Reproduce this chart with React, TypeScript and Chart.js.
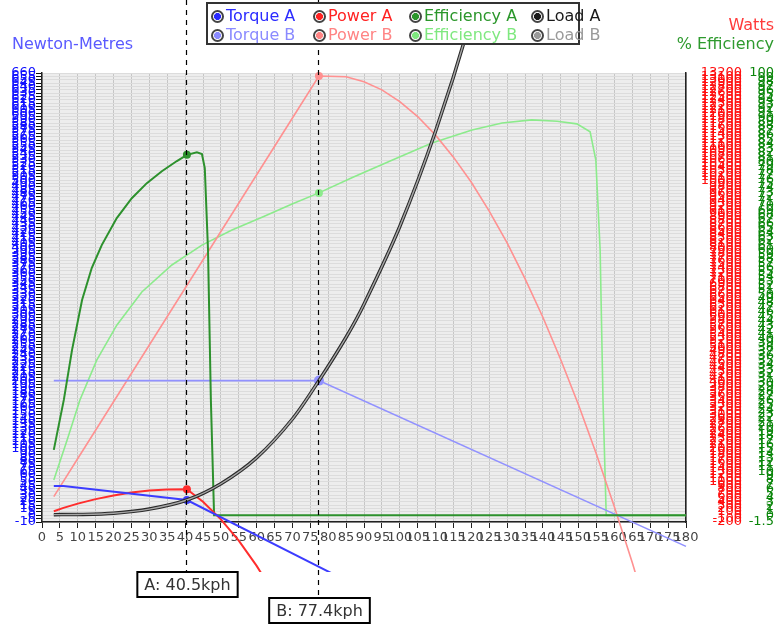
import React, { useEffect, useRef } from 'react';
import { Chart, registerables } from 'chart.js';

Chart.register(...registerables);

const FONT = '"DejaVu Sans", Verdana, sans-serif';

// ---- axes ----
const speedMin = 0;
const speedMax = 180;
const speedStep = 5;
const torqueMin = -10;
const torqueMax = 660;
const torqueStep = 5;
const wattsMin = -200;
const wattsMax = 13200;
const wattsStep = 100;
const effMin = -1.5;
const effMax = 100;
const effStep = 1;

// ---- operating points ----
const speedA = 40.5;
const speedB = 77.4;

// ---- series (speed in kph) ----
const torqueASpeeds = [3.3, 6, 40.5, 85];
const torqueAValues = [43.7, 43.7, 22.8, -97.4];

const torqueBSpeeds = [3.3, 77.4, 180];
const torqueBValues = [201, 201, -46.4];

const powerASpeeds = [3.3, 6, 10, 15, 20, 25, 30, 35, 40.5, 45, 50, 55, 60, 65];
const powerAValues = [122, 221, 348, 483, 593, 678, 738, 770, 778, 404, -120, -758, -1509, -2375];

const powerBSpeeds = [3.3, 10, 20, 30, 40, 50, 60, 70, 77.4, 85, 90, 95, 100, 105, 110, 115, 120, 125, 130, 135, 140, 145, 150, 155, 160, 165, 170];
const powerBValues = [559, 1694, 3388, 5081, 6775, 8469, 10163, 11857, 13110, 13087, 12939, 12697, 12346, 11901, 11346, 10689, 9940, 9080, 8129, 7065, 5911, 4643, 3287, 1816, 248, -1418, -3195];

const effASpeeds = [3.3, 6.1, 8.4, 11.2, 13.9, 16.7, 20.9, 25.1, 29.3, 33.5, 37.7, 40.5, 43.3, 44.7, 45.5, 46.4, 47.2, 48.1, 180];
const effAValues = [14.8, 26.1, 37.4, 48.7, 55.9, 61.1, 67.2, 71.7, 75.1, 77.8, 80.1, 81.5, 82.1, 81.7, 78.5, 60.0, 26.1, 0, 0];

const effBSpeeds = [3.3, 7.0, 10.6, 15.3, 20.9, 27.9, 36.3, 44.7, 53.1, 61.5, 69.9, 77.4, 86.6, 97.8, 109.0, 120.2, 128.6, 136.9, 144.0, 149.5, 153.2, 154.8, 156.0, 156.8, 157.7, 180];
const effBValues = [8.0, 17.0, 26.1, 35.1, 43.0, 50.5, 56.6, 61.1, 64.5, 67.4, 70.4, 72.9, 76.3, 80.3, 84.2, 87.1, 88.7, 89.4, 89.1, 88.5, 86.7, 80.3, 60.0, 26.1, 0, 0];

const loadSpeeds = [3.3, 10, 20, 30, 40.5, 50, 60, 70, 77.4, 85, 90, 100, 110, 120, 130];
const loadAValues = [1.0, 1.2, 3.1, 9.3, 22.8, 47.1, 86, 143.7, 201, 265.7, 315, 431, 573, 742.5, 943];
const loadBValues = [1.0, 1.2, 3.1, 9.3, 22.8, 47.1, 86, 143.7, 201, 265.7, 315, 431, 573, 742.5, 943];

// ---- legend ----
const legendLabels = ['Torque A', 'Power A', 'Efficiency A', 'Load A', 'Torque B', 'Power B', 'Efficiency B', 'Load B'];
const legendColors = ['#2b2bff', '#ff2222', '#2a962a', '#1a1a1a', '#8a8aff', '#ff8484', '#7fe87f', '#9a9a9a'];

const C = {
  torqueA: 'rgb(60,60,255)',
  torqueB: 'rgb(145,145,255)',
  powerA: 'rgb(255,45,45)',
  powerB: 'rgb(255,145,145)',
  effA: 'rgb(45,145,45)',
  effB: 'rgb(140,235,140)',
  loadA: '#2a2a2a',
  loadB: '#a8a8a8',
};

const zip = (xs: number[], ys: number[]) => xs.map((x, i) => ({ x, y: ys[i] }));

const dotAt = (speed: number, r: number) => (ctx: any) => (ctx.raw && ctx.raw.x === speed ? r : 0);

const markerPlugin = {
  id: 'opMarkers',
  beforeDraw(chart: any) {
    const { ctx, chartArea } = chart;
    ctx.save();
    ctx.fillStyle = '#ededed';
    ctx.fillRect(chartArea.left, chartArea.top, chartArea.right - chartArea.left, chartArea.bottom - chartArea.top);
    ctx.restore();
  },
  afterDraw(chart: any) {
    const { ctx, chartArea } = chart;
    const xs = chart.scales.x;
    const marks = [
      { text: `A: ${speedA}kph`, speed: speedA, top: chartArea.bottom + 50 },
      { text: `B: ${speedB}kph`, speed: speedB, top: chartArea.bottom + 76 },
    ];
    marks.forEach((m) => {
      const px = Math.round(xs.getPixelForValue(m.speed)) - 0.5;
      ctx.save();
      ctx.strokeStyle = '#000';
      ctx.lineWidth = 1.2;
      ctx.setLineDash([5, 5]);
      ctx.beginPath();
      ctx.moveTo(px, 0);
      ctx.lineTo(px, m.top);
      ctx.stroke();
      ctx.setLineDash([]);
      ctx.font = `16px ${FONT}`;
      const tw = ctx.measureText(m.text).width;
      const w = tw + 14;
      const h = 25;
      const bx = px + 1 - w / 2;
      ctx.fillStyle = '#fff';
      ctx.fillRect(bx, m.top, w, h);
      ctx.lineWidth = 2;
      ctx.strokeRect(bx, m.top, w, h);
      ctx.fillStyle = '#333';
      ctx.textAlign = 'center';
      ctx.textBaseline = 'middle';
      ctx.fillText(m.text, px + 1, m.top + h / 2 + 1);
      ctx.restore();
    });
  },
};

export default function App() {
  const ref = useRef<HTMLCanvasElement | null>(null);

  useEffect(() => {
    if (!ref.current) return;
    const tickFont = { family: FONT, size: 13 };
    const line = (label: string, data: any[], color: string, axis: string, extra: any = {}) => ({
      label,
      data,
      borderColor: color,
      backgroundColor: color,
      pointBackgroundColor: color,
      pointBorderWidth: 0,
      borderWidth: 1.6,
      yAxisID: axis,
      clip: 50,
      fill: false,
      tension: 0,
      pointRadius: 0,
      order: 2,
      ...extra,
    });
    const chart = new Chart(ref.current, {
      type: 'line',
      data: {
        datasets: [
          line('Torque A', zip(torqueASpeeds, torqueAValues), C.torqueA, 'yT', { pointRadius: dotAt(speedA, 4), borderWidth: 2 }),
          line('Power A', zip(powerASpeeds, powerAValues), C.powerA, 'yP', { pointRadius: dotAt(speedA, 4), borderWidth: 2 }),
          line('Efficiency A', zip(effASpeeds, effAValues), C.effA, 'yE', { pointRadius: dotAt(speedA, 4), borderWidth: 2 }),
          line('Torque B', zip(torqueBSpeeds, torqueBValues), C.torqueB, 'yT', { pointRadius: dotAt(speedB, 5) }),
          line('Power B', zip(powerBSpeeds, powerBValues), C.powerB, 'yP', { pointRadius: dotAt(speedB, 4) }),
          line('Efficiency B', zip(effBSpeeds, effBValues), C.effB, 'yE', { pointRadius: dotAt(speedB, 4) }),
          line('Load A', zip(loadSpeeds, loadAValues), C.loadA, 'yT', { borderWidth: 3.5, order: 1, tension: 0.3 }),
          line('Load B', zip(loadSpeeds, loadBValues), C.loadB, 'yT', { borderWidth: 1.4, order: 0, tension: 0.3 }),
        ],
      },
      options: {
        responsive: false,
        animation: false,
        layout: { padding: { left: 0, right: 7, top: 73, bottom: 0 } },
        plugins: { legend: { display: false }, tooltip: { enabled: false } },
        scales: {
          x: {
            type: 'linear',
            min: speedMin,
            max: speedMax,
            ticks: {
              stepSize: speedStep,
              autoSkip: false,
              maxRotation: 0,
              minRotation: 0,
              color: '#444',
              font: tickFont,
              padding: 2,
              callback: (v: any) => String(v),
            },
            grid: { color: '#c6c6c6', tickColor: '#222', tickLength: 6, lineWidth: 1 },
            border: { color: '#222', width: 1.5 },
            afterFit: (s: any) => {
              s.height = 108;
            },
          },
          yT: {
            type: 'linear',
            position: 'left',
            min: torqueMin,
            max: torqueMax,
            ticks: {
              stepSize: torqueStep,
              autoSkip: false,
              color: '#1010ff',
              font: tickFont,
              padding: 0,
              callback: (v: any) => String(v),
            },
            grid: { color: '#dcdcdc', tickColor: '#111', tickLength: 6 },
            border: { color: '#222', width: 1.5 },
            afterFit: (s: any) => {
              s.width = 42;
            },
          },
          yP: {
            type: 'linear',
            position: 'right',
            min: wattsMin,
            max: wattsMax,
            ticks: {
              stepSize: wattsStep,
              autoSkip: false,
              color: '#ff1010',
              font: tickFont,
              crossAlign: 'far',
              callback: (v: any) => String(v),
            },
            grid: { display: false },
            border: { display: true, color: '#222', width: 1.5 },
            afterFit: (s: any) => {
              s.width = 56;
            },
          },
          yE: {
            type: 'linear',
            position: 'right',
            min: effMin,
            max: effMax,
            ticks: {
              stepSize: effStep,
              autoSkip: false,
              color: '#0a850a',
              font: tickFont,
              crossAlign: 'far',
              callback: (v: any) => String(v),
            },
            grid: { display: false },
            border: { display: false },
            afterFit: (s: any) => {
              s.width = 32;
            },
          },
        },
      } as any,
      plugins: [markerPlugin],
    });
    return () => chart.destroy();
  }, []);

  const colX = [218, 320, 416, 538];
  const rowY = [14, 33];

  return (
    <div style={{ position: 'fixed', left: 0, top: 0, width: 781, height: 630, background: '#fff', fontFamily: FONT }}>
      <canvas ref={ref} width={781} height={630} style={{ position: 'absolute', left: 0, top: 0, width: 781, height: 630 }} />
      <div style={{ position: 'absolute', left: 12, top: 34, fontSize: 16, color: '#5a5aff', whiteSpace: 'nowrap' }}>Newton-Metres</div>
      <div style={{ position: 'absolute', right: 7, top: 15, fontSize: 16, color: '#ff3a3a', whiteSpace: 'nowrap' }}>Watts</div>
      <div style={{ position: 'absolute', right: 7, top: 34, fontSize: 16, color: '#2e9a2e', whiteSpace: 'nowrap' }}>% Efficiency</div>
      <div
        style={{
          position: 'absolute',
          left: 206,
          top: 2,
          width: 374,
          height: 43,
          boxSizing: 'border-box',
          border: '2px solid #333',
          background: '#fff',
        }}
      >
        {legendLabels.map((lab, i) => {
          const col = i % 4;
          const row = Math.floor(i / 4);
          return (
            <div
              key={lab}
              style={{
                position: 'absolute',
                left: colX[col] - 206 - 2 - 7,
                top: rowY[row] - 2 - 10,
                height: 20,
                display: 'flex',
                alignItems: 'center',
                whiteSpace: 'nowrap',
              }}
            >
              <span
                style={{
                  display: 'inline-block',
                  boxSizing: 'border-box',
                  width: 13,
                  height: 13,
                  borderRadius: '50%',
                  border: '2px solid #444',
                  background: `radial-gradient(circle, ${legendColors[i]} 0 3.2px, #fff 3.8px)`,
                  marginRight: 2,
                }}
              />
              <span style={{ fontSize: 16, color: legendColors[i], lineHeight: '20px' }}>{lab}</span>
            </div>
          );
        })}
      </div>
    </div>
  );
}
